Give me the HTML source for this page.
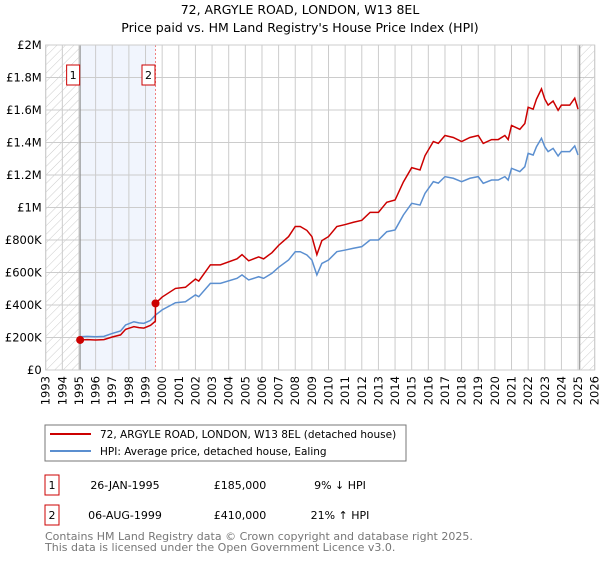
<!DOCTYPE html>
<html><head><meta charset="utf-8"><style>
body{margin:0;background:#fff;font-family:"DejaVu Sans","Liberation Sans",sans-serif;}
svg text{font-family:"DejaVu Sans","Liberation Sans",sans-serif;}
</style></head><body>
<svg id="c" width="600" height="560" xmlns="http://www.w3.org/2000/svg">
<defs><pattern id="hatch" width="6" height="6" patternUnits="userSpaceOnUse" patternTransform="rotate(45)"><line x1="0" y1="0" x2="0" y2="6" stroke="#ccc" stroke-width="1"/></pattern></defs>
<text x="300" y="14" text-anchor="middle" font-size="12.5">72, ARGYLE ROAD, LONDON, W13 8EL</text>
<text x="300" y="32" text-anchor="middle" font-size="12.5">Price paid vs. HM Land Registry's House Price Index (HPI)</text>
<g id="plot"></g>
<rect x="45" y="425" width="361" height="36" fill="#fff" stroke="#777"/>
<line x1="50" y1="434" x2="91" y2="434" stroke="#cc0000" stroke-width="2"/>
<text x="100" y="438" font-size="10.5">72, ARGYLE ROAD, LONDON, W13 8EL (detached house)</text>
<line x1="50" y1="451" x2="91" y2="451" stroke="#5b8fd0" stroke-width="2"/>
<text x="100" y="455" font-size="10.5">HPI: Average price, detached house, Ealing</text>
<rect x="45" y="475" width="14" height="20" fill="#fff" stroke="#cc0000"/>
<text x="52" y="489" text-anchor="middle" font-size="11">1</text>
<text x="125" y="489" text-anchor="middle" font-size="11">26-JAN-1995</text>
<text x="240" y="489" text-anchor="middle" font-size="11">£185,000</text>
<text x="340" y="489" text-anchor="middle" font-size="11">9% ↓ HPI</text>
<rect x="45" y="505" width="14" height="20" fill="#fff" stroke="#cc0000"/>
<text x="52" y="519" text-anchor="middle" font-size="11">2</text>
<text x="125" y="519" text-anchor="middle" font-size="11">06-AUG-1999</text>
<text x="240" y="519" text-anchor="middle" font-size="11">£410,000</text>
<text x="340" y="519" text-anchor="middle" font-size="11">21% ↑ HPI</text>
<text x="45" y="540" font-size="11" fill="#777">Contains HM Land Registry data © Crown copyright and database right 2025.</text>
<text x="45" y="551" font-size="11" fill="#777">This data is licensed under the Open Government Licence v3.0.</text>
</svg>
<script>
const hpiYears=[1995.0,1995.5,1996.0,1996.5,1997.0,1997.5,1997.8,1998.3,1998.6,1998.9,1999.3,1999.6,2000.0,2000.8,2001.4,2002.0,2002.2,2002.9,2003.5,2004.5,2004.8,2005.2,2005.8,2006.1,2006.6,2007.0,2007.6,2008.0,2008.3,2008.7,2009.0,2009.3,2009.6,2010.0,2010.5,2011.0,2011.5,2012.0,2012.5,2013.0,2013.5,2014.0,2014.5,2015.0,2015.5,2015.8,2016.3,2016.6,2017.0,2017.5,2018.0,2018.5,2019.0,2019.3,2019.8,2020.2,2020.6,2020.8,2021.0,2021.5,2021.8,2022.0,2022.3,2022.5,2022.8,2023.0,2023.2,2023.5,2023.8,2024.0,2024.5,2024.8,2025.0];
const hpiValues=[205,207,205,207,225,240,277,297,290,287,305,338,370,414,420,462,451,533,533,564,585,554,574,564,595,632,677,728,728,708,677,585,656,677,728,738,749,759,800,800,851,862,954,1026,1015,1087,1159,1150,1190,1180,1159,1180,1190,1149,1169,1169,1190,1169,1241,1221,1251,1333,1323,1374,1426,1374,1344,1364,1317,1344,1344,1379,1323];
const priceYears=[1995.07,1995.5,1996.0,1996.5,1997.0,1997.5,1997.8,1998.3,1998.6,1998.9,1999.3,1999.59,1999.6,2000.0,2000.8,2001.4,2002.0,2002.2,2002.9,2003.5,2004.5,2004.8,2005.2,2005.8,2006.1,2006.6,2007.0,2007.6,2008.0,2008.3,2008.7,2009.0,2009.3,2009.6,2010.0,2010.5,2011.0,2011.5,2012.0,2012.5,2013.0,2013.5,2014.0,2014.5,2015.0,2015.5,2015.8,2016.3,2016.6,2017.0,2017.5,2018.0,2018.5,2019.0,2019.3,2019.8,2020.2,2020.6,2020.8,2021.0,2021.5,2021.8,2022.0,2022.3,2022.5,2022.8,2023.0,2023.2,2023.5,2023.8,2024.0,2024.5,2024.8,2025.0];
const priceValues=[185,187,185,187,203,216,250,267,261,258,275,300,410,449,502,509,560,547,647,647,684,710,672,696,684,722,767,821,883,883,859,821,710,796,821,883,895,909,921,970,970,1032,1046,1157,1245,1231,1319,1406,1395,1443,1431,1406,1431,1443,1394,1418,1418,1443,1418,1505,1481,1517,1617,1605,1667,1730,1667,1630,1655,1598,1630,1630,1673,1605];
const saleYears=[1995.07,1999.6];
const saleValues=[185,410];
const saleLabels=["1","2"];
const yTicks=[0,200,400,600,800,1000,1200,1400,1600,1800,2000];
const yTickLabels=["£0","£200K","£400K","£600K","£800K","£1M","£1.2M","£1.4M","£1.6M","£1.8M","£2M"];
const xTicks=[1993,1994,1995,1996,1997,1998,1999,2000,2001,2002,2003,2004,2005,2006,2007,2008,2009,2010,2011,2012,2013,2014,2015,2016,2017,2018,2019,2020,2021,2022,2023,2024,2025,2026];
const X0=45.7,X1=594.7,Y0=370,Y1=45;
const sx=y=>X0+(y-1993)/(2026-1993)*(X1-X0);
const sy=v=>Y0-v/2000*(Y0-Y1);
const NS="http://www.w3.org/2000/svg";
const g=document.getElementById('plot');
function mk(t,a){const e=document.createElementNS(NS,t);for(const k in a)e.setAttribute(k,a[k]);g.appendChild(e);return e;}
let e;
e=mk('rect',{x:X0,y:Y1,width:sx(saleYears[0])-X0,height:Y0-Y1,fill:'url(#hatch)'});


e=mk('rect',{x:sx(2025.1),y:Y1,width:X1-sx(2025.1),height:Y0-Y1,fill:'url(#hatch)'});


e=mk('rect',{x:sx(saleYears[0]),y:Y1,width:sx(saleYears[1])-sx(saleYears[0]),height:Y0-Y1,fill:'#eef3fd',opacity:0.8});


yTicks.forEach((v,i)=>{
 e=mk('line',{x1:X0,x2:X1,y1:sy(v),y2:sy(v),stroke:'#ccc','stroke-width':1});
 
 
 e=mk('text',{x:X0-4,y:sy(v)+4,'text-anchor':'end','font-size':'11.5'});
 e.textContent=yTickLabels[i];
 
 
});
xTicks.forEach(y=>{
 e=mk('line',{x1:sx(y),x2:sx(y),y1:Y1,y2:Y0,stroke:'#ccc','stroke-width':1});
 
 
 e=mk('text',{x:0,y:0,'text-anchor':'end','font-size':'11.5',transform:`translate(${sx(y)+4},${Y0+6}) rotate(-90)`});
 e.textContent=y;
 
 
});
e=mk('line',{x1:sx(saleYears[0]),x2:sx(saleYears[0]),y1:Y1,y2:Y0,stroke:'#888','stroke-width':1});


e=mk('line',{x1:sx(saleYears[1]),x2:sx(saleYears[1]),y1:Y1,y2:Y0,stroke:'#f08080','stroke-width':1,'stroke-dasharray':'2,2'});


e=mk('line',{x1:sx(2025.1),x2:sx(2025.1),y1:Y1,y2:Y0,stroke:'#888','stroke-width':1});


e=mk('polyline',{points:hpiYears.map((y,i)=>sx(y)+','+sy(hpiValues[i])).join(' '),fill:'none',stroke:'#5b8fd0','stroke-width':1.5});


e=mk('polyline',{points:priceYears.map((y,i)=>sx(y)+','+sy(priceValues[i])).join(' '),fill:'none',stroke:'#cc0000','stroke-width':1.5});


saleYears.forEach((y,i)=>{
 e=mk('circle',{cx:sx(y),cy:sy(saleValues[i]),r:4,fill:'#cc0000'});
 
 
 e=mk('rect',{x:sx(y)-13.5,y:65,width:13,height:20,fill:'#fff',stroke:'#cc0000'});
 
 
 e=mk('text',{x:sx(y)-7,y:79,'text-anchor':'middle','font-size':'11'});
 e.textContent=saleLabels[i];
 
 
});
e=mk('rect',{x:X0,y:Y1,width:X1-X0,height:Y0-Y1,fill:'none',stroke:'#ccc'});


</script>
</body></html>
